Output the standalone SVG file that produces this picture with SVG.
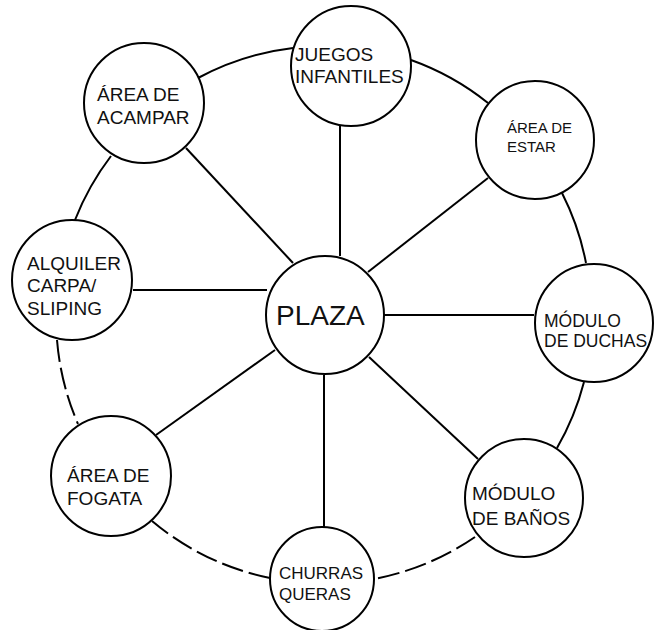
<svg xmlns="http://www.w3.org/2000/svg" width="661" height="630" viewBox="0 0 661 630">
<style>
.ln{fill:none;stroke:#000;stroke-width:2}
.ds{fill:none;stroke:#000;stroke-width:2;stroke-dasharray:22 6}
.nd{fill:#fff;stroke:#000;stroke-width:2}
text{font-family:"Liberation Sans",Arial,sans-serif;fill:#111}
</style>
<rect width="661" height="630" fill="#fff"/>
<g id="connectors">
<line class="ln" x1="186" y1="148" x2="293" y2="263"/>
<line class="ln" x1="340" y1="126" x2="340" y2="256"/>
<line class="ln" x1="488" y1="178" x2="368" y2="272"/>
<line class="ln" x1="384" y1="315" x2="534" y2="315"/>
<line class="ln" x1="369" y1="357" x2="478" y2="459"/>
<line class="ln" x1="324" y1="375" x2="324" y2="528"/>
<line class="ln" x1="156" y1="435" x2="275" y2="350"/>
<line class="ln" x1="133" y1="290" x2="267" y2="290"/>
<path class="ln" d="M198,78 A265,265 0 0 1 293,48"/>
<path class="ln" d="M411,60 A265,265 0 0 1 488,103"/>
<path class="ln" d="M562,193 A265,265 0 0 1 586,263"/>
<path class="ln" d="M584,382 A265,265 0 0 1 557,448"/>
<path class="ds" d="M475,537 A265,265 0 0 1 374,579"/>
<path class="ds" d="M270,578 A265,265 0 0 1 152,521"/>
<path class="ds" d="M57,340 A265,265 0 0 0 78,424"/>
<path class="ln" d="M75,220 A265,265 0 0 1 111,156"/>
</g>
<g id="plaza"><circle class="nd" cx="325" cy="315" r="59"/><text x="276" y="325" font-size="28">PLAZA</text></g>
<g id="juegos"><circle class="nd" cx="351" cy="66" r="60"/><text x="295" y="61" font-size="19">JUEGOS</text><text x="295" y="83" font-size="19">INFANTILES</text></g>
<g id="estar"><circle class="nd" cx="535" cy="140" r="59"/><text x="507" y="133" font-size="15">ÁREA DE</text><text x="507" y="152" font-size="15">ESTAR</text></g>
<g id="duchas"><circle class="nd" cx="594" cy="323" r="59"/><text x="544" y="327" font-size="17.5">MÓDULO</text><text x="544" y="347" font-size="17.5">DE DUCHAS</text></g>
<g id="banos"><circle class="nd" cx="524" cy="498" r="59"/><text x="472" y="500" font-size="19">MÓDULO</text><text x="472" y="525" font-size="19">DE BAÑOS</text></g>
<g id="churras"><circle class="nd" cx="322" cy="579" r="52"/><text x="279" y="579" font-size="17">CHURRAS</text><text x="279" y="600" font-size="17">QUERAS</text></g>
<g id="fogata"><circle class="nd" cx="111" cy="476" r="60"/><text x="67" y="482" font-size="19">ÁREA DE</text><text x="67" y="505" font-size="19">FOGATA</text></g>
<g id="alquiler"><circle class="nd" cx="72" cy="280" r="60"/><text x="27" y="270" font-size="19">ALQUILER</text><text x="27" y="292" font-size="19">CARPA/</text><text x="27" y="315" font-size="19">SLIPING</text></g>
<g id="acampar"><circle class="nd" cx="144" cy="103" r="60"/><text x="97" y="101" font-size="19">ÁREA DE</text><text x="97" y="124" font-size="19">ACAMPAR</text></g>
</svg>
